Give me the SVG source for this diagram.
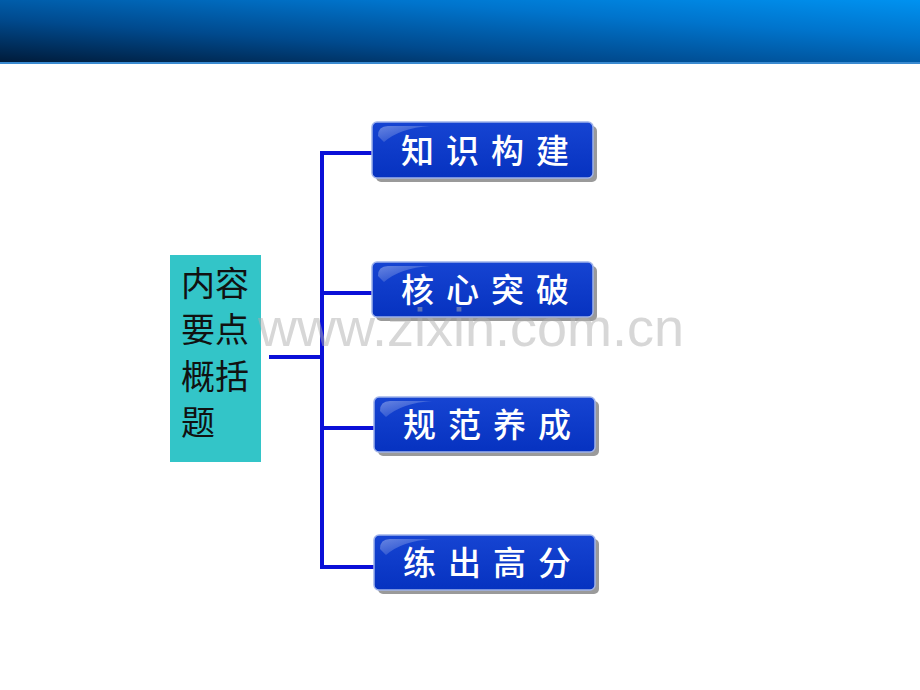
<svg xmlns="http://www.w3.org/2000/svg" width="920" height="690" viewBox="0 0 920 690">
<defs>
<linearGradient id="hdr" x1="0" y1="1" x2="1" y2="0">
<stop offset="0" stop-color="#001a38"/>
<stop offset="0.35" stop-color="#004a8e"/>
<stop offset="0.7" stop-color="#0074cc"/>
<stop offset="1" stop-color="#0092f0"/>
</linearGradient>
<linearGradient id="btn" x1="0" y1="0" x2="0" y2="1">
<stop offset="0" stop-color="#1644d2"/>
<stop offset="1" stop-color="#0632c0"/>
</linearGradient>
<linearGradient id="gloss" x1="0" y1="0" x2="1" y2="1">
<stop offset="0" stop-color="#ffffff" stop-opacity="0.35"/>
<stop offset="1" stop-color="#ffffff" stop-opacity="0"/>
</linearGradient>
<style>
.box{fill:url(#btn);stroke:#9fb2ea;stroke-width:1.5}
.gl{fill:url(#gloss)}
.shadow{fill:#9a9a9a}
.bt{font-family:"Noto Sans CJK SC","Noto Sans",sans-serif;font-size:33px;font-weight:500;fill:#ffffff;letter-spacing:12px}
.tt{font-family:"Noto Sans CJK SC","Noto Sans",sans-serif;font-size:34px;fill:#111111}
.ln{stroke:#0a10d8;stroke-width:4;fill:none}
</style>
</defs>
<rect x="0" y="0" width="920" height="690" fill="#ffffff"/>
<g id="header">
<rect x="0" y="0" width="920" height="63" fill="url(#hdr)"/>
<rect x="0" y="62" width="920" height="2" fill="#3a8ad0"/>
</g>
<g id="connectors">
<line class="ln" x1="269" y1="357" x2="320" y2="357"/>
<polyline class="ln" points="373,153 322,153 322,567 374,567"/>
<line class="ln" x1="322" y1="293" x2="373" y2="293"/>
<line class="ln" x1="322" y1="428" x2="375" y2="428"/>
</g>
<g id="root">
<rect x="170" y="255" width="91" height="207" fill="#33c5c8"/>
<text class="tt" x="181" y="296">内容</text>
<text class="tt" x="181" y="342">要点</text>
<text class="tt" x="181" y="389">概括</text>
<text class="tt" x="181" y="435">题</text>
</g>
<g id="n1">
<rect class="shadow" x="376" y="126" width="221" height="56" rx="5"/>
<rect class="box" x="372" y="122" width="221" height="56" rx="5"/>
<path class="gl" d="M378,136 Q378,126 388,126 L430,126 Q400,128 384,142 Z"/>
<text class="bt" x="401" y="163">知识构建</text>
</g>
<g id="n2">
<rect class="shadow" x="376" y="266" width="221" height="55" rx="5"/>
<rect class="box" x="372" y="262" width="221" height="55" rx="5"/>
<path class="gl" d="M378,276 Q378,266 388,266 L430,266 Q400,268 384,282 Z"/>
<text class="bt" x="401" y="302">核心突破</text>
</g>
<g id="n3">
<rect class="shadow" x="378" y="401" width="221" height="55" rx="5"/>
<rect class="box" x="374" y="397" width="221" height="55" rx="5"/>
<path class="gl" d="M380,411 Q380,401 390,401 L432,401 Q402,403 386,417 Z"/>
<text class="bt" x="403" y="437">规范养成</text>
</g>
<g id="n4">
<rect class="shadow" x="378" y="539" width="221" height="55" rx="5"/>
<rect class="box" x="374" y="535" width="221" height="55" rx="5"/>
<path class="gl" d="M380,549 Q380,539 390,539 L432,539 Q402,541 386,555 Z"/>
<text class="bt" x="403" y="575">练出高分</text>
</g>
<text x="258" y="346" font-family="Liberation Sans, Arial, sans-serif" font-size="54" fill="#b0b0b0" fill-opacity="0.5">www.zixin.com.cn</text>
</svg>
